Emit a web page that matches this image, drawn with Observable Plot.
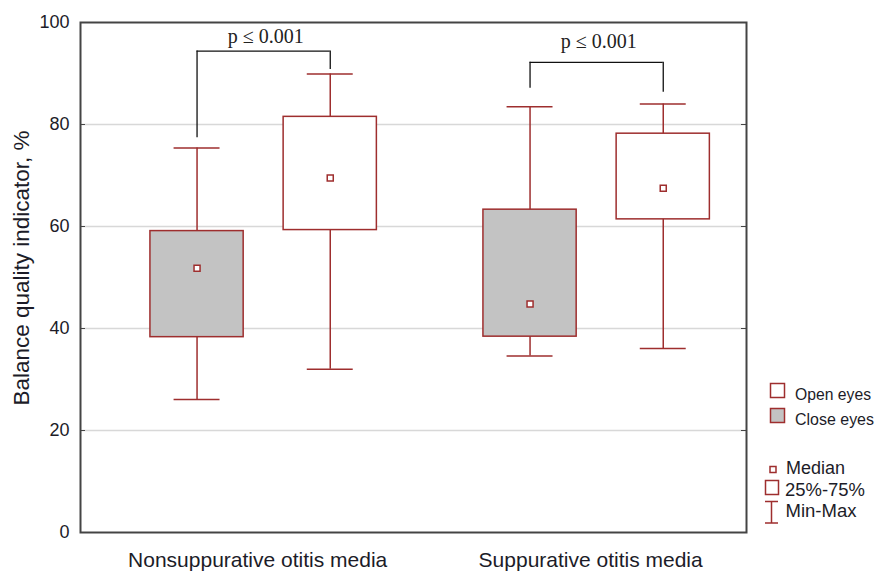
<!DOCTYPE html>
<html>
<head>
<meta charset="utf-8">
<script src="https://cdn.jsdelivr.net/npm/d3@7"></script>
<script src="https://cdn.jsdelivr.net/npm/@observablehq/plot@0.6"></script>
<style>
  html, body { margin: 0; padding: 0; background: #fff; }
  #chart { width: 880px; height: 571px; overflow: hidden; }
</style>
</head>
<body>
<div id="chart"></div>
<script>
// ---- data ----
const groups = ["Nonsuppurative otitis media", "Suppurative otitis media"];
const conditions = ["Close eyes", "Open eyes"];
// order: [Nonsupp-Close, Nonsupp-Open, Supp-Close, Supp-Open]
const minVals = [26.1, 32.0, 34.6, 36.1];
const q1Vals = [38.3, 59.3, 38.4, 61.4];
const medianVals = [51.8, 69.5, 44.8, 67.5];
const q3Vals = [59.1, 81.5, 63.3, 78.2];
const maxVals = [75.4, 89.9, 83.5, 84.0];
const yTicks = [0, 20, 40, 60, 80, 100];
// significance brackets
const pLabels = ["p \u2264 0.001", "p \u2264 0.001"];
const bracketTop = [94.4, 92.2];
const bracketLeftEnd = [77.4, 87.1];
const bracketRightEnd = [90.8, 86.3];
const pTextY = [96.0, 95.0];

// ---- build table ----
const off = 0.2, boxHalf = 0.14, capHalf = 0.069;
const rows = [];
groups.forEach((g, gi) => {
  conditions.forEach((c, ci) => {
    const i = gi * 2 + ci;
    rows.push({
      group: g, condition: c,
      x: gi + 1 + (ci === 0 ? -off : off),
      min: minVals[i], q1: q1Vals[i], median: medianVals[i], q3: q3Vals[i], max: maxVals[i]
    });
  });
});
const brackets = groups.map((g, gi) => ({
  xl: gi + 1 - off, xr: gi + 1 + off, xm: gi + 1,
  top: bracketTop[gi], le: bracketLeftEnd[gi], re: bracketRightEnd[gi],
  ty: pTextY[gi], label: pLabels[gi]
}));

const red = "#9e2e2e";
const xDom = [0.45, 2.45];

const chart = Plot.plot({
  width: 880, height: 571,
  marginLeft: 80, marginRight: 134, marginTop: 22, marginBottom: 39,
  style: { fontFamily: "'Liberation Sans', Arial, sans-serif", background: "#fff", overflow: "visible" },
  x: { domain: xDom, axis: null },
  y: { domain: [0, 100], axis: null },
  marks: [
    Plot.gridY([20, 40, 60, 80], { stroke: "#d8d8d8", strokeOpacity: 1, strokeWidth: 1.5 }),
    // inward tick marks left & right
    Plot.ruleY(yTicks, { x1: xDom[0], x2: xDom[0] + 0.015, stroke: "#444" }),
    Plot.ruleY([20, 40, 60, 80], { x1: xDom[1] - 0.015, x2: xDom[1], stroke: "#444" }),
    // whiskers
    Plot.ruleX(rows, { x: "x", y1: "min", y2: "max", stroke: red, strokeWidth: 1.5 }),
    Plot.ruleY(rows, { y: "min", x1: d => d.x - capHalf, x2: d => d.x + capHalf, stroke: red, strokeWidth: 1.5 }),
    Plot.ruleY(rows, { y: "max", x1: d => d.x - capHalf, x2: d => d.x + capHalf, stroke: red, strokeWidth: 1.5 }),
    // boxes
    Plot.rect(rows, {
      x1: d => d.x - boxHalf, x2: d => d.x + boxHalf, y1: "q1", y2: "q3",
      fill: d => d.condition === "Close eyes" ? "#c3c3c3" : "#ffffff",
      stroke: red, strokeWidth: 1.5
    }),
    // medians
    Plot.dot(rows, { x: "x", y: "median", symbol: "square", r: 3.4, fill: "#fff", stroke: red, strokeWidth: 1.5 }),
    // brackets
    Plot.ruleX(brackets, { x: "xl", y1: "le", y2: "top", stroke: "#111", strokeWidth: 1.3 }),
    Plot.ruleX(brackets, { x: "xr", y1: "re", y2: "top", stroke: "#111", strokeWidth: 1.3 }),
    Plot.ruleY(brackets, { y: "top", x1: "xl", x2: "xr", stroke: "#111", strokeWidth: 1.3 }),
    Plot.text(brackets, { x: "xm", y: "ty", text: "label", lineAnchor: "bottom", dx: 2, fontSize: 20,
      fontFamily: "'Liberation Serif', 'Times New Roman', serif", fill: "#222" }),
    // frame
    Plot.frame({ stroke: "#444", strokeWidth: 2 }),
    // y tick labels
    Plot.text(yTicks, { x: xDom[0], y: d => d, text: d => String(d), textAnchor: "end", dx: -11,
      fontSize: 18, fill: "#1c1c28" }),
    // x labels
    Plot.text(groups, { x: (d, i) => i + 1, y: 0, text: d => d, lineAnchor: "top", dx: -6, dy: 20, fontSize: 21, fill: "#1c1c28" }),
    // y title
    Plot.text(["Balance quality indicator, %"], { frameAnchor: "left", textAnchor: "middle", rotate: -90,
      dx: -59, dy: -9.5, fontSize: 22.5, fill: "#1c1c28" })
  ]
});

document.getElementById("chart").appendChild(chart);

// ---- legend (outside the plot area) ----
const svg = d3.select(chart);
const lg = svg.append("g").attr("font-family", "'Liberation Sans', Arial, sans-serif")
  .attr("fill", "#1c1c28").attr("text-anchor", "start");
const narrow = "'Liberation Sans Narrow', 'Arial Narrow', 'Liberation Sans', sans-serif";
const condLegend = [
  { label: "Open eyes", fill: "#fff", y: 383.5, w: 76 },
  { label: "Close eyes", fill: "#c3c3c3", y: 408.5, w: 79 }
];
condLegend.forEach(d => {
  lg.append("rect").attr("x", 770.5).attr("y", d.y).attr("width", 14).attr("height", 14)
    .attr("fill", d.fill).attr("stroke", red).attr("stroke-width", 1.5);
  lg.append("text").attr("x", 795).attr("y", d.y + 16).attr("font-size", 17)
    .attr("font-family", narrow).attr("textLength", d.w).attr("lengthAdjust", "spacingAndGlyphs").text(d.label);
});
// Median
lg.append("rect").attr("x", 770).attr("y", 466.5).attr("width", 6).attr("height", 6)
  .attr("fill", "#fff").attr("stroke", red).attr("stroke-width", 1.5);
lg.append("text").attr("x", 786).attr("y", 474).attr("font-size", 17.5)
  .attr("textLength", 59).attr("lengthAdjust", "spacingAndGlyphs").text("Median");
// 25-75
lg.append("rect").attr("x", 765.5).attr("y", 480.5).attr("width", 13).attr("height", 14)
  .attr("fill", "#fff").attr("stroke", red).attr("stroke-width", 1.5);
lg.append("text").attr("x", 785).attr("y", 496).attr("font-size", 17.5)
  .attr("textLength", 80).attr("lengthAdjust", "spacingAndGlyphs").text("25%-75%");
// Min-Max
lg.append("path").attr("d", "M765,501.5H778M771.5,501.5V523M765,523H778")
  .attr("fill", "none").attr("stroke", red).attr("stroke-width", 1.5);
lg.append("text").attr("x", 785.5).attr("y", 517).attr("font-size", 17.5)
  .attr("textLength", 71).attr("lengthAdjust", "spacingAndGlyphs").text("Min-Max");
</script>
</body>
</html>
